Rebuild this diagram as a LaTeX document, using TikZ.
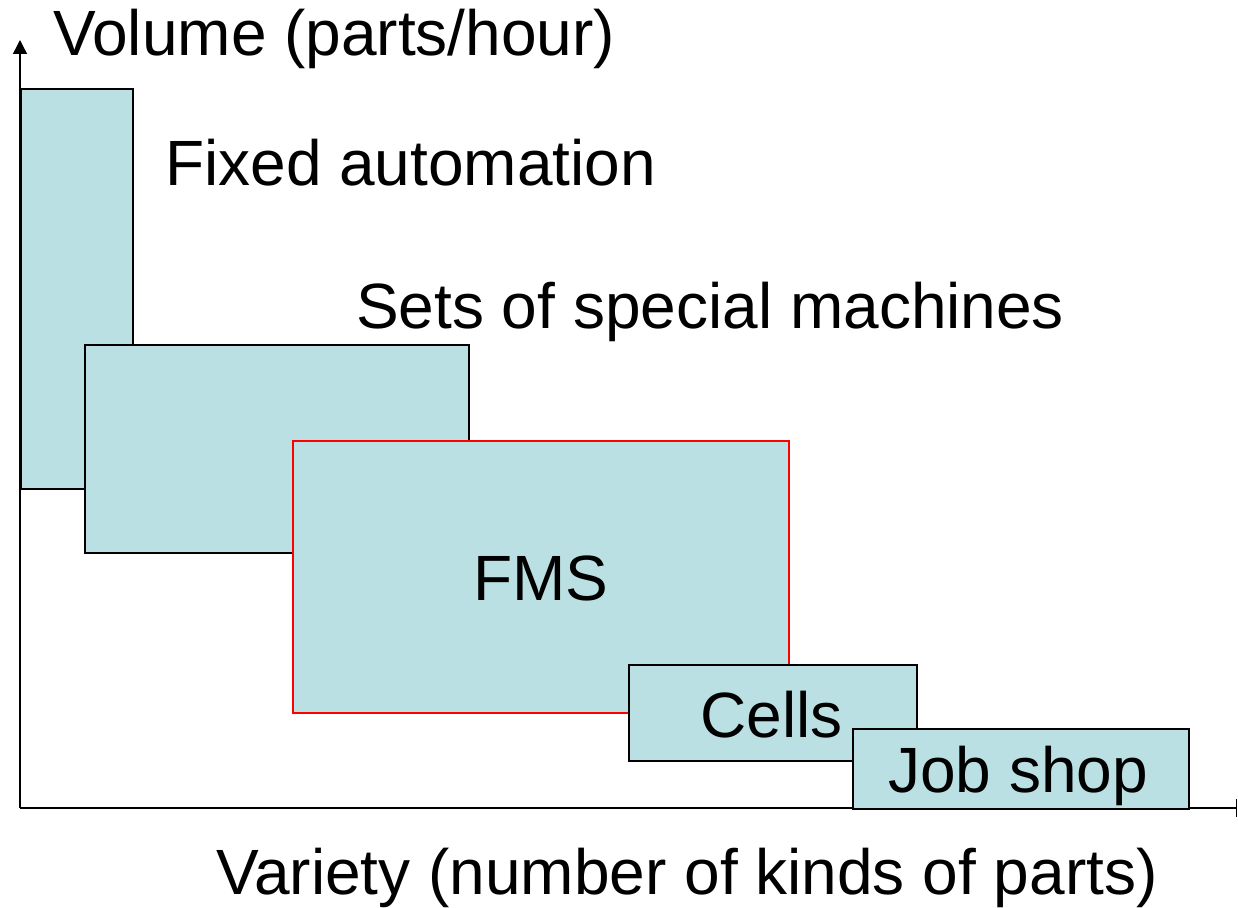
\documentclass[tikz,border=0pt]{standalone}
\usepackage{fontspec}
\setmainfont{Liberation Sans}
\usetikzlibrary{arrows.meta}
\definecolor{boxfill}{RGB}{187,224,227}
\begin{document}
\begin{tikzpicture}[x=1pt,y=-1pt,
  box/.style={draw=black,line width=1.5pt,fill=boxfill,inner sep=0pt,anchor=north west},
  lbl/.style={inner sep=0pt,anchor=base west,font=\fontsize{64}{72}\selectfont},
  axis/.style={line width=1.5pt}]
\useasboundingbox (0,0) rectangle (1238,907);
\coordinate (origin) at (20,808);
\coordinate (ytop) at (20,40);
\coordinate (xend) at (1237,808);
\draw[axis,-{Triangle[width=14pt,length=14pt]}] (origin) -- (ytop);
\draw[axis,-{Bar[width=18pt]}] (origin) -- (xend);
\node[box,minimum width=112pt,minimum height=400pt] (fixed) at (20,88) {};
\node[box,minimum width=384pt,minimum height=208pt] (sets) at (84,344) {};
\node[box,draw=red,minimum width=496pt,minimum height=272pt] (fms) at (292,440) {};
\node[box,minimum width=288pt,minimum height=96pt] (cells) at (628,664) {};
\node[box,minimum width=336pt,minimum height=80pt] (job) at (852,728) {};
\node[lbl] (tvol) at (53,56) {Volume (parts/hour)};
\node[lbl] (tfixed) at (165,185) {Fixed automation};
\node[lbl] (tsets) at (356,328) {Sets of special machines};
\node[lbl,anchor=base] (tfms) at (541,600) {FMS};
\node[lbl] (tcells) at (700,737) {Cells};
\node[lbl] (tjob) at (888,792) {Job shop};
\node[lbl] (tvar) at (216,894) {Variety (number of kinds of parts)};
\end{tikzpicture}
\end{document}
